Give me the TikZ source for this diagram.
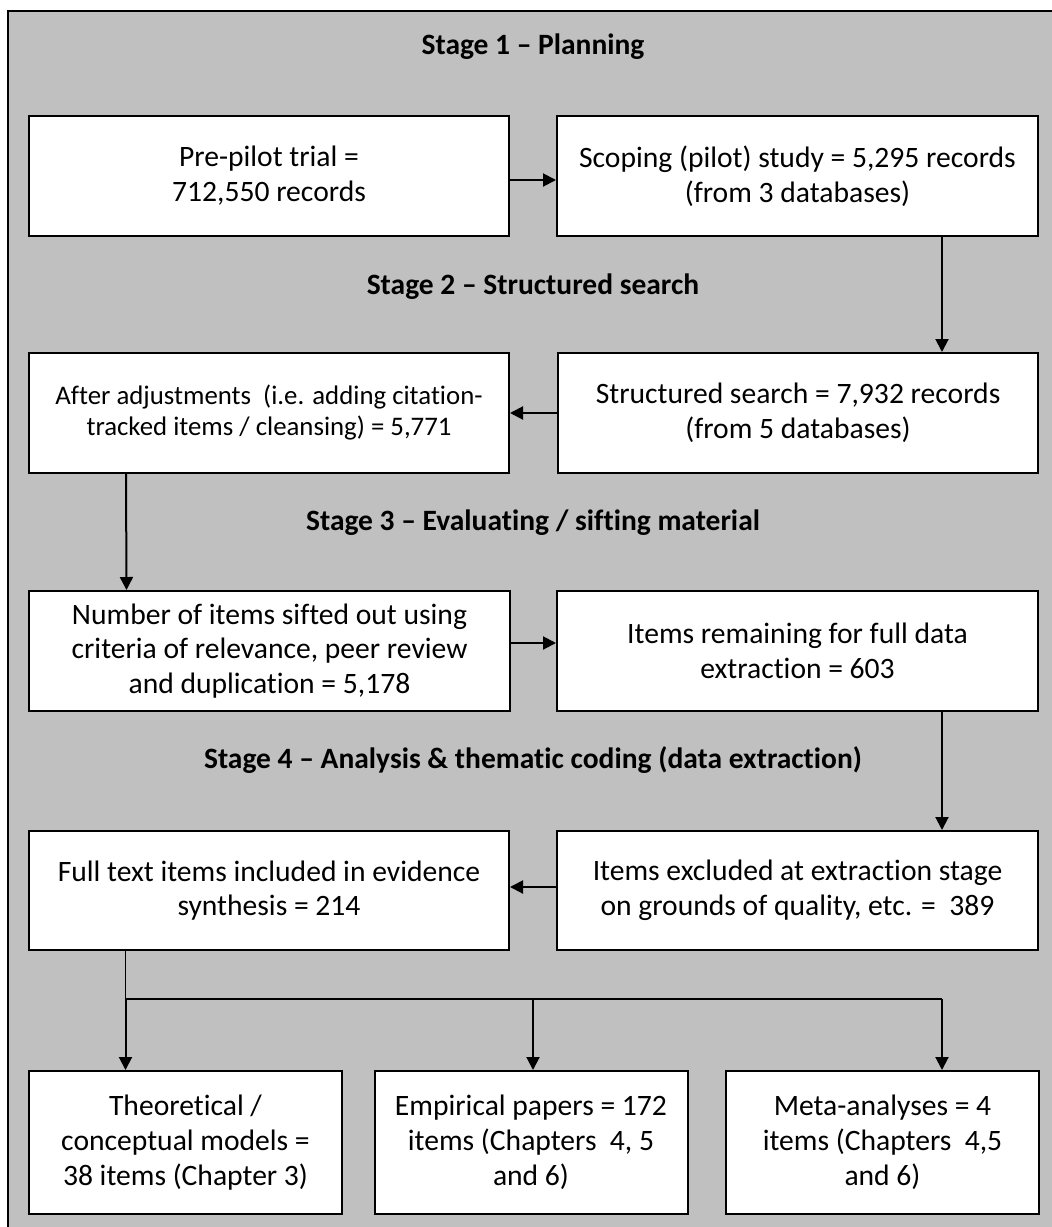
\documentclass[tikz,border=0pt]{standalone}
\usepackage{fontspec}
\setmainfont{Carlito}[Ligatures={NoCommon,NoContextual,NoRare}, RawFeature={-liga;-clig;-dlig}]
\usetikzlibrary{arrows.meta}
\definecolor{bggray}{RGB}{192,192,192}
\tikzset{
  box/.style={draw=black, fill=white, line width=2pt, align=center, inner sep=0pt,
    font=\fontsize{29.6}{34.8}\selectfont},
  smallbox/.style={box, font=\fontsize{26.8}{31}\selectfont},
  title/.style={font=\fontsize{29.5}{34}\selectfont\bfseries, inner sep=0pt},
  arr/.style={line width=2pt, -{Triangle[length=13pt,width=13pt]}},
  conn/.style={line width=2pt},
  thinconn/.style={line width=1.3pt}
}
\begin{document}
\begin{tikzpicture}[x=1pt,y=-1pt]
\path[use as bounding box] (0,0) rectangle (1052,1227);
\clip (0,0) rectangle (1052,1227);
\fill[white] (0,0) rectangle (1052,1227);
\filldraw[fill=bggray, draw=black, line width=2.2pt] (8,11) rectangle (1080,1250);

% titles
\node[title] (t1) at (533,47) {Stage 1 – Planning};
\node[title] (t2) at (533,287) {Stage 2 – Structured search};
\node[title] (t3) at (533,523) {Stage 3 – Evaluating / sifting material};
\node[title] (t4) at (533,760) {Stage 4 – Analysis \& thematic coding (data extraction)};

% boxes
\node[box, minimum width=480pt, minimum height=120pt] (pre) at (269,176)
  {Pre-pilot trial =\\712,550 records};
\node[box, minimum width=481pt, minimum height=120pt] (scope) at (797.5,176)
  {Scoping (pilot) study = 5,295 records\\(from 3 databases)};
\node[smallbox, minimum width=480pt, minimum height=120pt] (after) at (269,413)
  {After adjustments \ (i.e. adding citation-\\tracked items / cleansing) = 5,771};
\node[box, minimum width=480pt, minimum height=120pt] (struct) at (798,413)
  {Structured search = 7,932 records\\(from 5 databases)};
\node[box, minimum width=481pt, minimum height=120pt] (num) at (269.5,651)
  {Number of items sifted out using\\criteria of relevance, peer review\\and duplication = 5,178};
\node[box, minimum width=481pt, minimum height=120pt] (rem) at (797.5,651)
  {Items remaining for full data\\extraction = 603};
\node[box, minimum width=480pt, minimum height=119pt] (full) at (269,890.5)
  {Full text items included in evidence\\synthesis = 214};
\node[box, minimum width=481pt, minimum height=119pt] (excl) at (797.5,890.5)
  {Items excluded at extraction stage\\on grounds of quality, etc. = \ 389};
\node[box, minimum width=313pt, minimum height=143pt] (theo) at (185.5,1142.5)
  {Theoretical /\\conceptual models =\\38 items (Chapter 3)};
\node[box, minimum width=313pt, minimum height=143pt] (emp) at (531,1142.5)
  {Empirical papers = 172\\items (Chapters \ 4, 5\\and 6)};
\node[box, minimum width=313pt, minimum height=143pt] (meta) at (882.5,1142.5)
  {Meta-analyses = 4\\items (Chapters \ 4,5\\and 6)};

% connectors
\draw[arr] ([yshift=-4pt]pre.east) -- ([yshift=-4pt]scope.west);
\draw[arr] ([xshift=144.5pt]scope.south) -- ([xshift=144pt]struct.north);
\draw[arr] (struct.west) -- (after.east);
\draw[arr] ([xshift=-143pt]after.south) -- ([xshift=-143pt]num.north);
\draw[arr] ([yshift=8pt]num.east) -- ([yshift=8pt]rem.west);
\draw[arr] ([xshift=144.5pt]rem.south) -- ([xshift=144.5pt]excl.north);
\draw[arr] ([yshift=3.5pt]excl.west) -- ([yshift=3.5pt]full.east);

\coordinate (j1) at (125.5,999);
\coordinate (j2) at (533,999);
\coordinate (j3) at (942,999);
\draw[thinconn] ([xshift=-143.5pt]full.south) -- (j1);
\draw[conn] (j1) -- (j3);
\draw[arr] (j1) -- (j1 |- theo.north);
\draw[arr] (j2) -- (j2 |- emp.north);
\draw[arr] (j3) -- (j3 |- meta.north);
\end{tikzpicture}
\end{document}
